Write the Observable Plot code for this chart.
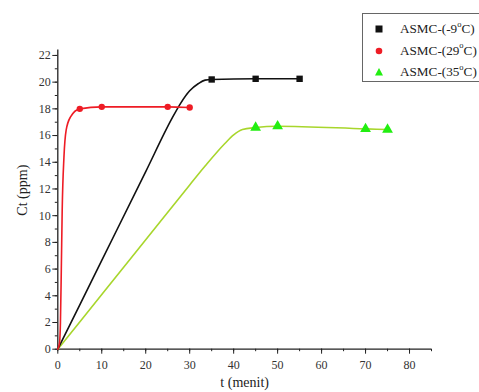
<!DOCTYPE html>
<html><head><meta charset="utf-8">
<script src="https://cdn.jsdelivr.net/npm/d3@7"></script>
<script src="https://cdn.jsdelivr.net/npm/@observablehq/plot@0.6"></script>
<style>
html,body{margin:0;padding:0;background:#fff;overflow:hidden;width:479px;height:392px;}
#wrap{position:relative;width:479px;height:392px;overflow:hidden;}
#legend{position:absolute;left:362px;top:13px;width:140px;height:67px;border:1px solid #666;background:#fff;}
.row{position:absolute;left:0;top:0;width:140px;height:20px;}
.row svg{position:absolute;left:11px;top:5px;}
.row span{position:absolute;left:37px;top:1px;white-space:nowrap;font-family:"Liberation Serif",serif;font-size:13.2px;color:#222;line-height:18px;}
.row sup{font-size:8.5px;position:relative;top:-1px;vertical-align:super;line-height:0;}
</style></head>
<body><div id="wrap"><div id="chart"></div>
<div id="legend"></div></div>
<script>
// Series labels
const seriesNames = ["ASMC-(-9", "ASMC-(29", "ASMC-(35"];
// Marker points (t in minutes, Ct in ppm)
const blackT = [35, 45, 55];
const blackC = [20.2, 20.25, 20.25];
const redT = [5, 10, 25, 30];
const redC = [18.0, 18.15, 18.15, 18.1];
const greenT = [45, 50, 70, 75];
const greenC = [16.6, 16.7, 16.5, 16.45];
// Fitted curve points
const blackCurveT = [0, 10, 20, 26, 28, 30, 32, 33.5, 35, 45, 55];
const blackCurveC = [0, 6.65, 13.3, 17.3, 18.45, 19.35, 19.9, 20.15, 20.2, 20.25, 20.25];
const redCurveT = [0, 0.4, 0.6, 0.8, 1.0, 1.4, 1.9, 2.9, 5, 10, 25, 30];
const redCurveC = [0, 0.5, 2, 6, 10.4, 14.4, 16.4, 17.4, 18.0, 18.15, 18.15, 18.1];
const greenCurveT = [0, 10, 20, 30, 33.6, 38, 40, 42, 45, 50, 70, 75];
const greenCurveC = [0, 4.1, 8.2, 12.3, 13.75, 15.4, 16.05, 16.45, 16.6, 16.7, 16.5, 16.45];
const yMajor = d3.range(0, 23, 2);
const yMinor = d3.range(0, 23, 1);
const xMajor = d3.range(0, 81, 10);
const xMinor = d3.range(0, 86, 5);

const zip = (t, c) => t.map((v, i) => ({t: v, c: c[i]}));
const bCurve = zip(blackCurveT, blackCurveC), rCurve = zip(redCurveT, redCurveC), gCurve = zip(greenCurveT, greenCurveC);
const bPts = zip(blackT, blackC), rPts = zip(redT, redC), gPts = zip(greenT, greenC);

const colors = {black: "#111", red: "#ee1c25", greenLine: "#a8d62c", greenFill: "#22ee11"};

const chart = Plot.plot({
  width: 479, height: 392,
  marginLeft: 57.3, marginRight: 48, marginTop: 49.6, marginBottom: 43.3,
  style: {fontFamily: "Liberation Serif, serif", fontSize: "12px", color: "#333", background: "#fff"},
  x: {domain: [0, 85]},
  y: {domain: [0, 22.4]},
  marks: [
    Plot.axisY({ticks: yMinor, tickSize: 2.5, text: null, label: null, stroke: "#222"}),
    Plot.axisY({ticks: yMajor, tickSize: 5, tickPadding: 2, label: null, stroke: "#222", fill: "#333"}),
    Plot.axisX({ticks: xMinor, tickSize: 2.5, text: null, label: null, stroke: "#222"}),
    Plot.axisX({ticks: xMajor, tickSize: 5, tickPadding: 6, label: null, stroke: "#222", fill: "#333"}),
    Plot.ruleX([0], {y1: 0, y2: 22.4, stroke: "#222", strokeWidth: 1.3}),
    Plot.ruleY([0], {x1: 0, x2: 85, stroke: "#222", strokeWidth: 1.3}),
    Plot.line(gCurve, {x: "t", y: "c", stroke: colors.greenLine, strokeWidth: 1.6, curve: "monotone-x"}),
    Plot.line(bCurve, {x: "t", y: "c", stroke: colors.black, strokeWidth: 1.6, curve: "monotone-x"}),
    Plot.line(rCurve, {x: "t", y: "c", stroke: colors.red, strokeWidth: 1.6, curve: "monotone-x"}),
    Plot.dot(bPts, {x: "t", y: "c", symbol: "square", r: 3.6, fill: colors.black, stroke: "none"}),
    Plot.dot(rPts, {x: "t", y: "c", symbol: "circle", r: 3.2, fill: colors.red, stroke: "none"}),
    Plot.dot(gPts, {x: "t", y: "c", symbol: "triangle", r: 4, fill: colors.greenFill, stroke: "none"}),
    Plot.text(["Ct (ppm)"], {frameAnchor: "left", dx: -35, dy: 16, rotate: -90, fontSize: 14, fill: "#222"}),
    Plot.text(["t (menit)"], {frameAnchor: "bottom", dy: 38, dx: 0, fontSize: 14, fill: "#222"})
  ]
});
document.getElementById("chart").appendChild(chart);

// Legend
const legend = document.getElementById("legend");
const syms = [
  '<svg width="10" height="10"><rect x="1.5" y="1.5" width="7" height="7" fill="#111"/></svg>',
  '<svg width="10" height="10"><circle cx="5" cy="5" r="3.3" fill="#ee1c25"/></svg>',
  '<svg width="10" height="10"><path d="M5 1 L9 8.5 L1 8.5 Z" fill="#22ee11"/></svg>'
];
const rowTops = [5, 26.5, 48];
seriesNames.forEach((n, i) => {
  const r = document.createElement("div");
  r.className = "row";
  r.style.top = rowTops[i] + "px";
  r.innerHTML = syms[i] + '<span>' + n + '<sup>o</sup>C)</span>';
  legend.appendChild(r);
});
</script>
</body></html>
